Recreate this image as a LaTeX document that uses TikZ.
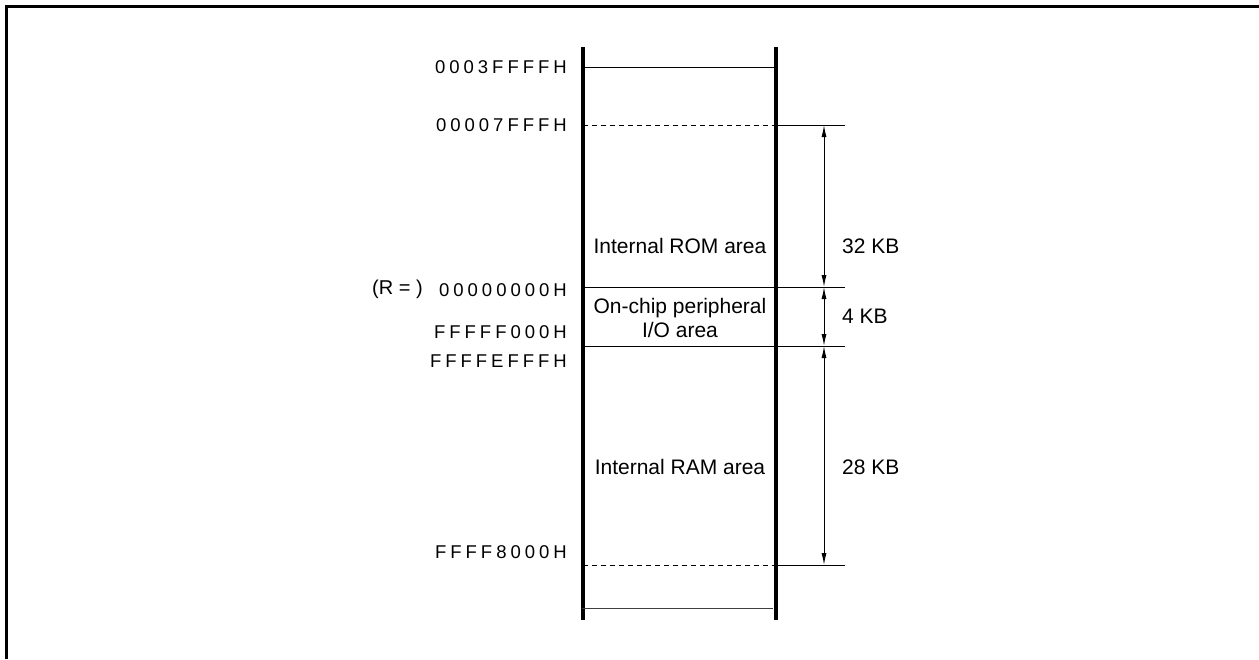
\documentclass[tikz,border=0pt]{standalone}
\usepackage{fontspec}
\setmainfont{Liberation Sans}
\usetikzlibrary{arrows.meta}
\newlength\hexgap
\setlength\hexgap{4pt}
\def\hexl#1{\hexA#1\relax}
\def\hexA#1#2{#1\ifx#2\relax\else\kern\hexgap\expandafter\hexA\expandafter#2\fi}
\begin{document}
\begin{tikzpicture}[x=1pt,y=-1pt,
  hline/.style={line width=1pt},
  dline/.style={line width=1pt,dash pattern=on 5pt off 4pt},
  wall/.style={line width=3.2pt},
  dim/.style={line width=1pt,{Latex[length=12pt,width=5pt]}-{Latex[length=12pt,width=5pt]}},
  hex/.style={anchor=east,inner sep=0pt,font=\fontsize{18.5}{22}\selectfont},
  area/.style={inner sep=0pt,font=\fontsize{21}{24}\selectfont,align=center},
  size/.style={anchor=west,inner sep=0pt,font=\fontsize{21}{24}\selectfont},
]
\useasboundingbox (0,0) rectangle (1259,659);
\draw[line width=3pt] (6,659) -- (6,6) -- (1259,6);
% walls
\coordinate (LT) at (583,47); \coordinate (LB) at (583,620);
\coordinate (RT) at (776,47); \coordinate (RB) at (776,620);
\draw[wall] (LT) -- (LB);
\draw[wall] (RT) -- (RB);
% boundary lines
\coordinate (a1) at (583,67);  \coordinate (a2) at (776,67);
\coordinate (b1) at (583,125); \coordinate (b2) at (776,125); \coordinate (b3) at (845,125);
\coordinate (c1) at (583,287); \coordinate (c2) at (776,287); \coordinate (c3) at (845,287);
\coordinate (d1) at (583,346); \coordinate (d2) at (776,346); \coordinate (d3) at (845,346);
\coordinate (e1) at (583,565); \coordinate (e2) at (776,565); \coordinate (e3) at (845,565);
\coordinate (f1) at (582,608); \coordinate (f2) at (773,608);
\draw[hline] (a1) -- (a2);
\draw[dline] (b1) -- (b2); \draw[hline] (b2) -- (b3);
\draw[hline] (c1) -- (c3);
\draw[hline] (d1) -- (d3);
\draw[dline] (e1) -- (e2); \draw[hline] (e2) -- (e3);
\draw[hline,draw=black!75] (f1) -- (f2);
% dimension arrows
\coordinate (m1) at (824,125); \coordinate (m2) at (824,287);
\coordinate (m3) at (824,346); \coordinate (m4) at (824,565);
\draw[dim] (m1) -- (m2);
\draw[dim] (m2) -- (m3);
\draw[dim] (m3) -- (m4);
\node[size] (s32) at (842,246) {32 KB};
\node[size] (s4) at (842,316) {4 KB};
\node[size] (s28) at (842,467) {28 KB};
% area labels
\node[area] (rom) at (680,246) {Internal ROM area};
\node[area] (io) at (680,318) {On-chip peripheral\\I/O area};
\node[area] (ram) at (680,467) {Internal RAM area};
% address labels
\node[hex] (h1) at (567,67) {\hexl{0003FFFFH}};
\node[hex] (h2) at (567,125) {\hexl{00007FFFH}};
\node[hex] (h3) at (567,290) {\hexl{00000000H}};
\node[hex] (h4) at (567,332) {\hexl{FFFFF000H}};
\node[hex] (h5) at (567,361) {\hexl{FFFFEFFFH}};
\node[hex] (h6) at (567,552) {\hexl{FFFF8000H}};
\node[anchor=east,inner sep=0pt,font=\fontsize{20}{23}\selectfont] (r) at (423,289) {(R = )};
\end{tikzpicture}
\end{document}
